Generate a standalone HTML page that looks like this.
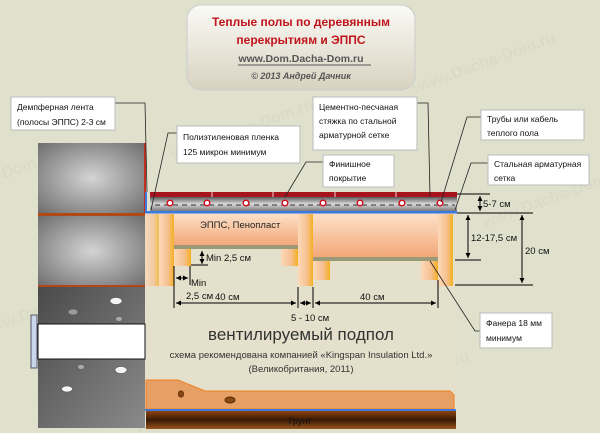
<!DOCTYPE html>
<html><head><meta charset="utf-8"><style>
html,body{margin:0;width:600px;height:433px;overflow:hidden;background:#dfe1cd}
svg{display:block}
text{font-family:"Liberation Sans","DejaVu Sans",sans-serif}
</style></head><body>
<svg width="600" height="433" viewBox="0 0 600 433" xmlns="http://www.w3.org/2000/svg">
<defs>
<radialGradient id="wallg" cx="0.5" cy="0.5" r="0.7"><stop offset="0" stop-color="#d4d4d4"/><stop offset="1" stop-color="#6e6e6e"/></radialGradient>
<linearGradient id="dark" x1="0" y1="0" x2="1" y2="1"><stop offset="0" stop-color="#4a4a4a"/><stop offset="1" stop-color="#8a8a8a"/></linearGradient>
<linearGradient id="scr" x1="0" y1="0" x2="0" y2="1"><stop offset="0" stop-color="#5a5a5a"/><stop offset="0.5" stop-color="#dadada"/><stop offset="1" stop-color="#7a7a7a"/></linearGradient>
<linearGradient id="eps" x1="0" y1="0" x2="0" y2="1"><stop offset="0" stop-color="#fde0c8"/><stop offset="1" stop-color="#f2a878"/></linearGradient>
<linearGradient id="joist" x1="0" y1="0" x2="1" y2="0"><stop offset="0" stop-color="#fcd9b8"/><stop offset="0.6" stop-color="#f6c090"/><stop offset="1" stop-color="#f5b020"/></linearGradient>
<linearGradient id="title" x1="0" y1="0" x2="0" y2="1"><stop offset="0" stop-color="#fafaf5"/><stop offset="1" stop-color="#d8d2c0"/></linearGradient>
<linearGradient id="soil" x1="0" y1="0" x2="0" y2="1"><stop offset="0" stop-color="#8a4510"/><stop offset="0.5" stop-color="#3a1a05"/><stop offset="1" stop-color="#9a5520"/></linearGradient>
<marker id="a" viewBox="0 0 10 10" refX="10" refY="5" markerWidth="5" markerHeight="5" orient="auto-start-reverse"><path d="M0,0L10,5L0,10z" fill="#000"/></marker>
</defs>
<g fill="#c9c4a8" opacity="0.18" font-size="16" font-weight="bold" transform="rotate(-20 300 216)">
<text x="-60" y="80">www.Dacha-Dom.ru</text><text x="200" y="120">www.Dacha-Dom.ru</text><text x="450" y="140">www.Dacha-Dom.ru</text>
<text x="-40" y="220">www.Dacha-Dom.ru</text><text x="230" y="260">www.Dacha-Dom.ru</text><text x="470" y="290">www.Dacha-Dom.ru</text>
<text x="-20" y="370">www.Dacha-Dom.ru</text><text x="260" y="410">www.Dacha-Dom.ru</text>
</g>
<!-- title -->
<rect x="187" y="5" width="228" height="85" rx="14" fill="url(#title)" stroke="#ccc"/>
<text x="301" y="26" text-anchor="middle" font-size="12" font-weight="bold" fill="#c0141c">Теплые полы по деревянным</text>
<text x="301" y="44" text-anchor="middle" font-size="12" font-weight="bold" fill="#c0141c">перекрытиям и ЭППС</text>
<text x="301" y="62" text-anchor="middle" font-size="10.5" font-weight="bold" fill="#555">www.Dom.Dacha-Dom.ru</text>
<line x1="238" y1="65" x2="371" y2="65" stroke="#555"/>
<text x="301" y="79" text-anchor="middle" font-size="9" font-weight="bold" font-style="italic" fill="#555">© 2013 Андрей Дачник</text>
<!-- underfloor background -->
<rect x="145" y="213" width="311" height="197" fill="#e4e0cc"/>
<!-- wall -->
<rect x="38" y="143" width="107" height="70" fill="url(#wallg)"/>
<rect x="38" y="213" width="107" height="3" fill="#b04818"/>
<rect x="38" y="216" width="107" height="70" fill="url(#wallg)"/>
<rect x="38" y="285" width="107" height="2" fill="#b04818"/>
<rect x="38" y="287" width="107" height="141" fill="url(#dark)"/>
<rect x="38" y="324" width="107" height="35" fill="#fff" stroke="#111"/>
<rect x="31" y="315" width="6" height="53" fill="#c8d8ea" stroke="#556"/>
<g fill="#f4f4f4" stroke="#555" stroke-width="0.6"><ellipse cx="116" cy="301" rx="6" ry="3.5"/><ellipse cx="73" cy="312" rx="5" ry="3" fill="#999"/><ellipse cx="119" cy="319" rx="3.5" ry="2.5" fill="#aaa"/><ellipse cx="81" cy="367" rx="3.5" ry="2.5" fill="#aaa"/><ellipse cx="121" cy="370" rx="6" ry="3.5"/><ellipse cx="67" cy="389" rx="5.5" ry="3"/></g>
<rect x="144" y="143" width="2" height="70" fill="#c03020"/>
<!-- screed -->
<rect x="150" y="192" width="307" height="5" fill="#a8141c"/>
<rect x="150" y="197" width="307" height="14" fill="url(#scr)"/>
<rect x="145" y="211" width="312" height="2.5" fill="#3a7ae0"/>
<rect x="145" y="192" width="2" height="21" fill="#3a7ae0"/>
<g stroke="#fff" stroke-width="0.8"><line x1="212" y1="192" x2="212" y2="197"/><line x1="273" y1="192" x2="273" y2="197"/><line x1="335" y1="192" x2="335" y2="197"/><line x1="396" y1="192" x2="396" y2="197"/></g>
<line x1="155" y1="205" x2="455" y2="205" stroke="#333" stroke-dasharray="5,4"/>
<g fill="#fff" stroke="#d01020" stroke-width="1.5"><circle cx="170" cy="203" r="2.8"/><circle cx="207" cy="203" r="2.8"/><circle cx="246" cy="203" r="2.8"/><circle cx="285" cy="203" r="2.8"/><circle cx="323" cy="203" r="2.8"/><circle cx="360" cy="203" r="2.8"/><circle cx="402" cy="203" r="2.8"/><circle cx="440" cy="203" r="2.8"/></g>
<!-- joists/eps -->
<rect x="145" y="214" width="14" height="72" fill="url(#joist)" opacity="0.7"/>
<rect x="174" y="214" width="124" height="31" fill="url(#eps)"/>
<rect x="174" y="245" width="124" height="4" fill="#9a9a78"/>
<rect x="174" y="249" width="17" height="17" fill="url(#joist)"/>
<rect x="281" y="249" width="17" height="17" fill="url(#joist)"/>
<rect x="313" y="214" width="125" height="43" fill="url(#eps)"/>
<line x1="313" y1="230" x2="438" y2="230" stroke="#f8d0b0"/>
<rect x="313" y="257" width="125" height="4" fill="#9a9a78"/>
<rect x="313" y="261" width="17" height="19" fill="url(#joist)"/>
<rect x="421" y="261" width="17" height="19" fill="url(#joist)"/>
<rect x="159" y="214" width="15" height="72" fill="url(#joist)"/>
<rect x="298" y="214" width="15" height="72" fill="url(#joist)"/>
<rect x="438" y="214" width="15" height="72" fill="url(#joist)"/>
<text x="200" y="228" font-size="9.5" fill="#222">ЭППС, Пенопласт</text>
<!-- ground -->
<path d="M146,380 L178,380 L205,391 L450,391 L454,395 L454,409 L146,409 Z" fill="#e6a066" stroke="#f08020"/>
<ellipse cx="181" cy="394" rx="2.5" ry="3" fill="#8a4a10" stroke="#5a2a05"/>
<ellipse cx="230" cy="400" rx="5" ry="3" fill="#8a4a10" stroke="#5a2a05"/>
<rect x="145" y="409" width="311" height="2" fill="#3a7ae0"/>
<rect x="146" y="411" width="310" height="18" fill="url(#soil)"/>
<text x="300" y="424" text-anchor="middle" font-size="9" fill="#111">Грунт</text>
<!-- dims -->
<g stroke="#000" stroke-width="1" fill="none">
<line x1="457" y1="194" x2="490" y2="194"/><line x1="457" y1="213" x2="533" y2="213"/><line x1="455" y1="260" x2="481" y2="260"/><line x1="455" y1="285" x2="533" y2="285"/>
<line x1="480" y1="196" x2="480" y2="211" marker-start="url(#a)" marker-end="url(#a)"/>
<line x1="468" y1="215" x2="468" y2="258" marker-start="url(#a)" marker-end="url(#a)"/>
<line x1="522" y1="215" x2="522" y2="283" marker-start="url(#a)" marker-end="url(#a)"/>
<line x1="174" y1="266" x2="174" y2="308"/><line x1="298" y1="287" x2="298" y2="308"/><line x1="313" y1="287" x2="313" y2="308"/><line x1="438" y1="280" x2="438" y2="308"/>
<line x1="176" y1="303" x2="296" y2="303" marker-start="url(#a)" marker-end="url(#a)"/>
<line x1="300" y1="303" x2="311" y2="303" marker-start="url(#a)" marker-end="url(#a)"/>
<line x1="315" y1="303" x2="436" y2="303" marker-start="url(#a)" marker-end="url(#a)"/>
<line x1="202" y1="251" x2="202" y2="264" marker-start="url(#a)" marker-end="url(#a)"/><line x1="191" y1="265" x2="208" y2="265"/>
<line x1="176" y1="278" x2="188" y2="278" marker-start="url(#a)" marker-end="url(#a)"/><line x1="190" y1="266" x2="190" y2="285"/>
</g>
<g font-size="9.5" fill="#111">
<text x="483" y="207">5-7 см</text><text x="471" y="241">12-17,5 см</text><text x="525" y="254">20 см</text>
<text x="206" y="261">Min 2,5 см</text><text x="191" y="286">Min</text><text x="186" y="299">2,5 см</text>
<text x="215" y="300">40 см</text><text x="360" y="300">40 см</text><text x="291" y="321">5 - 10 см</text>
</g>
<text x="301" y="340" text-anchor="middle" font-size="17" fill="#333">вентилируемый подпол</text>
<text x="301" y="358" text-anchor="middle" font-size="9.5" fill="#333">схема рекомендована компанией  «Kingspan Insulation Ltd.»</text>
<text x="301" y="372" text-anchor="middle" font-size="9.5" fill="#333">(Великобритания, 2011)</text>
<!-- leader lines -->
<g stroke="#222" stroke-width="0.8" fill="none">
<polyline points="115,103 145,103 147,192"/>
<polyline points="177,133 168,133 151,210"/>
<polyline points="323,162 306,162 285,197"/>
<polyline points="417,103 428,103 430,197"/>
<polyline points="481,117 467,117 441,202"/>
<polyline points="488,163 471,163 455,210"/>
<polyline points="480,331 475,331 430,261"/>
</g>
<!-- label boxes -->
<g fill="#fff" stroke="#bbb"><rect x="11" y="97" width="104" height="33"/><rect x="177" y="126" width="123" height="37"/><rect x="313" y="97" width="104" height="53"/><rect x="481" y="110" width="103" height="30"/><rect x="323" y="155" width="71" height="32"/><rect x="488" y="155" width="101" height="30"/><rect x="480" y="313" width="72" height="35"/></g>
<g font-size="8.5" fill="#111">
<text x="17" y="110">Демпферная лента</text><text x="17" y="125">(полосы ЭППС) 2-3 см</text>
<text x="183" y="140">Полиэтиленовая пленка</text><text x="183" y="155">125 микрон минимум</text>
<text x="319" y="110">Цементно-песчаная</text><text x="319" y="124">стяжка по стальной</text><text x="319" y="138">арматурной сетке</text>
<text x="487" y="122">Трубы или кабель</text><text x="487" y="136">теплого пола</text>
<text x="329" y="167">Финишное</text><text x="329" y="181">покрытие</text>
<text x="494" y="167">Стальная арматурная</text><text x="494" y="181">сетка</text>
<text x="486" y="326">Фанера 18 мм</text><text x="486" y="341">минимум</text>
</g>
</svg>
</body></html>
